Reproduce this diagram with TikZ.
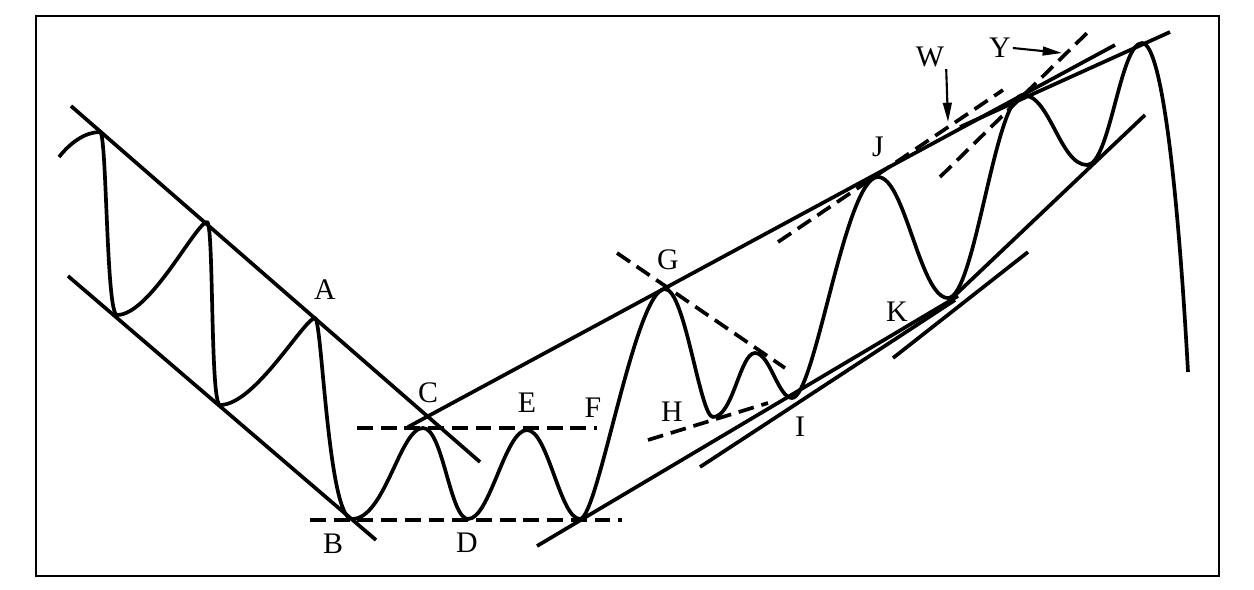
\documentclass[tikz,border=0pt]{standalone}
\usepackage{fontspec}
\setmainfont{Liberation Serif}
\usepackage{tikz}
\usetikzlibrary{arrows.meta}

\begin{document}
\begin{tikzpicture}[
  x=0.02cm, y=-0.02cm,
  wave/.style={line width=2.1pt, line join=round},
  trend/.style={line width=2.1pt},
  guide/.style={line width=2.1pt, dash pattern=on 9pt off 4.5pt},
  pointer/.style={-{Triangle[length=11pt,width=5pt]}, line width=1.2pt},
  lbl/.style={font=\fontsize{17}{20}\selectfont, inner sep=1pt},
]
\useasboundingbox (0,0) rectangle (1254,589);
\draw[line width=1.2pt] (36,16) rectangle (1219,576);

% price curve
\draw[wave] (59,157) .. controls (70,143) and (85,132) .. (100,132)
  .. controls (107,132) and (106,315) .. (117,315)
  .. controls (150,315) and (195,224) .. (207,222)
  .. controls (214,222) and (210,405) .. (220,405)
  .. controls (255,405) and (303,320) .. (315,318)
  .. controls (322,318) and (328,519) .. (352,519)
  .. controls (385,519) and (400,428) .. (423,428)
  .. controls (443,428) and (450,519) .. (468,519)
  .. controls (490,519) and (505,430) .. (527,430)
  .. controls (548,430) and (560,519) .. (580,519)
  .. controls (598,519) and (635,289) .. (665,289)
  .. controls (685,289) and (700,417) .. (713,417)
  .. controls (733,417) and (740,353) .. (755,353)
  .. controls (770,353) and (778,398) .. (792,398)
  .. controls (815,398) and (845,177) .. (878,177)
  .. controls (905,177) and (920,298) .. (948,298)
  .. controls (975,298) and (995,95) .. (1023,95)
  .. controls (1050,95) and (1060,165) .. (1087,165)
  .. controls (1110,165) and (1120,43) .. (1142,43)
  .. controls (1162,43) and (1178,190) .. (1188,372);

% down channel
\draw[trend] (71,106) -- (480,462);
\draw[trend] (68,276) -- (376,540);

% up trend lines
\draw[trend] (408,427) -- (1115,45);
\draw[trend] (960,127) -- (1170,32);
\draw[trend] (537,546) -- (958,296);
\draw[trend] (700,467) -- (955,300);
\draw[trend] (893,358) -- (1028,252);
\draw[trend] (950,300) -- (1145,115);

% dashed guides
\draw[guide] (357,428) -- (597,428);
\draw[guide] (310,520) -- (622,520);
\draw[guide] (617,253) -- (785,368);
\draw[guide] (648,440) -- (768,403);
\draw[guide] (778,242) -- (1003,90);
\draw[guide] (940,177) -- (1087,33);

% labels
\node[lbl] (lA) at (325,290) {A};
\node[lbl] (lB) at (333,544) {B};
\node[lbl] (lC) at (428,393) {C};
\node[lbl] (lD) at (467,543) {D};
\node[lbl] (lE) at (527,403) {E};
\node[lbl] (lF) at (593,408) {F};
\node[lbl] (lG) at (668,260) {G};
\node[lbl] (lH) at (672,412) {H};
\node[lbl] (lI) at (800,427) {I};
\node[lbl] (lJ) at (878,147) {J};
\node[lbl] (lK) at (897,312) {K};
\node[lbl] (lW) at (930,57) {W};
\node[lbl] (lY) at (1000,48) {Y};

\coordinate (wTip) at (948,122);
\coordinate (yTip) at (1062,53);
\draw[pointer] (lW.south east) -- (wTip);
\draw[pointer] (lY.east) -- (yTip);
\end{tikzpicture}
\end{document}
